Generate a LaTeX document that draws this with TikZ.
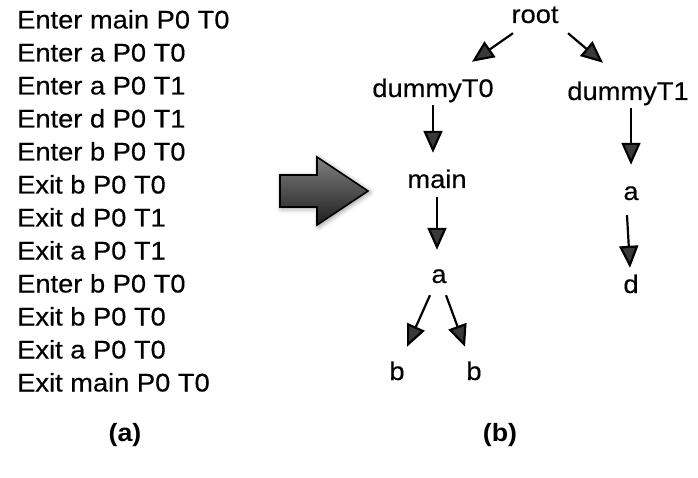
\documentclass[tikz,border=0pt]{standalone}
\usepackage{fontspec}
\setmainfont[FakeStretch=1.07,FakeBold=0.35]{Liberation Sans}[BoldFeatures={FakeBold=0}]
\usetikzlibrary{arrows.meta,shadows.blur}

\begin{document}
\begin{tikzpicture}[x=1pt,y=-1pt,
  txt/.style={font=\fontsize{25.5}{30}\selectfont, inner sep=0pt,
              text height=18pt, text depth=6pt},
  trace/.style={txt, anchor=base west},
  tn/.style={txt, anchor=base},
  caption/.style={font=\fontsize{25}{30}\selectfont\bfseries, inner sep=0pt, anchor=base},
  edge/.style={line width=2.2pt, -{Triangle[length=22pt,width=19pt]}},
  bigarrow/.style={draw=black, line width=1.6pt, line join=miter,
                   top color=black!50, middle color=black!33, bottom color=black!88,
                   blur shadow={shadow xshift=1.5pt, shadow yshift=-1.5pt,
                                shadow blur radius=5pt, shadow opacity=45}}]
\useasboundingbox (0,0) rectangle (698,478);

% event trace
\foreach \line [count=\i from 0] in {Enter main P0 T0, Enter a P0 T0, Enter a P0 T1,
    Enter d P0 T1, Enter b P0 T0, Exit b P0 T0, Exit d P0 T1, Exit a P0 T1,
    Enter b P0 T0, Exit b P0 T0, Exit a P0 T0, Exit main P0 T0}
  \node[trace] (ev\i) at (17, 28.5+33*\i) {\line};

% transformation arrow
\path[bigarrow] (280,175) -- (317,175) -- (317,157) -- (368,191)
  -- (317,225) -- (317,207) -- (280,207) -- cycle;

% call tree
\node[tn] (root) at (535,23)  {root};
\node[tn] (d0)   at (433,97)  {dummyT0};
\node[tn] (d1)   at (628,100) {dummyT1};
\node[tn] (main) at (437,188) {main};
\node[tn] (a0)   at (439,283) {a};
\node[tn] (b0)   at (397,380) {b};
\node[tn] (b1)   at (474,380) {b};
\node[tn] (a1)   at (631,200) {a};
\node[tn] (dd)   at (631,293) {d};

\draw[edge] ([xshift=-22pt,yshift=-4pt]root.south) -- ([xshift=39pt,yshift=17pt]d0.north);
\draw[edge] ([xshift=33pt,yshift=-4pt]root.south) -- ([xshift=-25pt,yshift=19pt]d1.north);
\draw[edge] ([yshift=-2pt]d0.south) -- ([yshift=17pt]d0.south |- main.north);
\draw[edge] ([yshift=-3pt]main.south) -- ([yshift=15pt]main.south |- a0.north);
\draw[edge] ([xshift=-9pt,yshift=-6pt]a0.south) -- ([xshift=10pt,yshift=15pt]b0.north);
\draw[edge] ([xshift=7pt,yshift=-6pt]a0.south) -- ([xshift=-9pt,yshift=15pt]b1.north);
\draw[edge] ([xshift=3pt,yshift=-2pt]d1.south) -- ([xshift=3pt,yshift=17pt]d1.south |- a1.north);
\draw[edge] ([xshift=-4pt,yshift=-9pt]a1.south) -- ([xshift=-1pt,yshift=7pt]dd.north);

% panel captions
\node[caption] (capa) at (125,441) {(a)};
\node[caption] (capb) at (500,441) {(b)};
\end{tikzpicture}
\end{document}
